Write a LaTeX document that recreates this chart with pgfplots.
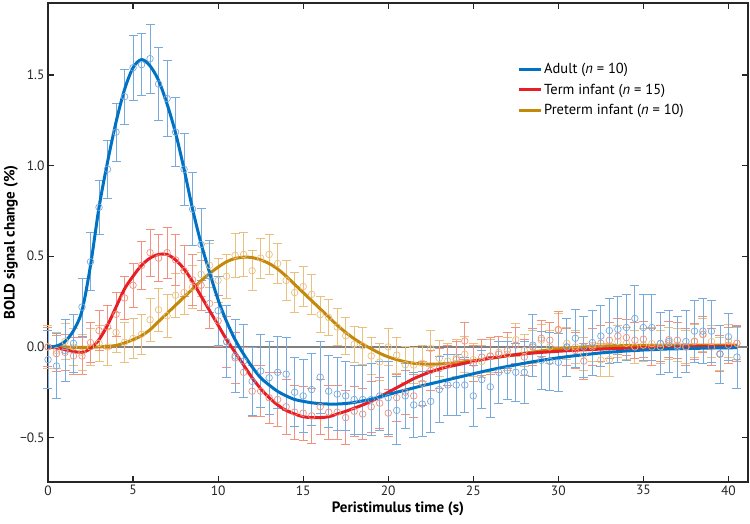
\documentclass[border=0pt]{standalone}
\usepackage{fontspec}
\setmainfont{PT Sans}
\usepackage{pgfplots}
\usepackage{pgfplotstable}
\pgfplotsset{compat=1.18}
\definecolor{cB}{RGB}{0,114,195}
\definecolor{cBl}{RGB}{120,170,222}
\definecolor{cR}{RGB}{232,30,38}
\definecolor{cRl}{RGB}{242,145,125}
\definecolor{cG}{RGB}{196,136,10}
\definecolor{cGl}{RGB}{234,192,128}

\pgfplotstableread{
t v e
0 -0.07 0.16
0.5 -0.105 0.18
1 -0.02 0.17
1.5 0.02 0.16
2 0.22 0.16
2.5 0.47 0.16
3 0.77 0.15
3.5 0.98 0.16
4 1.185 0.16
4.5 1.38 0.15
5 1.54 0.18
5.5 1.557 0.17
6 1.59 0.19
6.5 1.45 0.2
7 1.37 0.21
7.5 1.185 0.19
8 0.98 0.2
8.5 0.76 0.2
9 0.565 0.2
9.5 0.39 0.2
10 0.2 0.19
10.5 0.03 0.2
11 -0.05 0.2
11.5 -0.078 0.2
12 -0.19 0.19
12.5 -0.133 0.2
13 -0.17 0.2
13.5 -0.14 0.2
14 -0.15 0.2
14.5 -0.25 0.19
15 -0.27 0.2
15.5 -0.235 0.2
16 -0.167 0.2
16.5 -0.244 0.2
17 -0.26 0.2
17.5 -0.27 0.19
18 -0.29 0.19
18.5 -0.29 0.19
19 -0.29 0.2
19.5 -0.27 0.19
20 -0.28 0.2
20.5 -0.35 0.19
21 -0.27 0.18
21.5 -0.32 0.18
22 -0.315 0.18
22.5 -0.30 0.17
23 -0.235 0.18
23.5 -0.21 0.17
24 -0.21 0.17
24.5 -0.21 0.15
25 -0.27 0.17
25.5 -0.18 0.16
26 -0.22 0.17
26.5 -0.14 0.17
27 -0.13 0.16
27.5 -0.14 0.16
28 -0.14 0.17
28.5 0.01 0.17
29 -0.074 0.16
29.5 -0.08 0.16
30 -0.085 0.16
30.5 0.0 0.16
31 0.048 0.16
31.5 0.0 0.17
32 0.024 0.18
32.5 0.06 0.17
33 0.09 0.18
33.5 0.097 0.18
34 0.107 0.18
34.5 0.157 0.18
35 0.107 0.18
35.5 0.107 0.18
36 0.018 0.17
36.5 0.03 0.17
37 0.0 0.17
37.5 0.03 0.17
38 0.087 0.17
38.5 0.087 0.18
39 0.087 0.17
39.5 -0.04 0.16
40 0.056 0.13
40.5 -0.056 0.17
}\adultpts

\pgfplotstableread{
t v e
0 0.0 0.11
0.5 -0.037 0.1
1 -0.03 0.1
1.5 -0.05 0.1
2 -0.05 0.1
2.5 0.024 0.11
3 0.09 0.11
3.5 0.11 0.12
4 0.18 0.12
4.5 0.27 0.12
5 0.34 0.12
5.5 0.45 0.13
6 0.52 0.13
6.5 0.49 0.13
7 0.52 0.14
7.5 0.48 0.14
8 0.42 0.14
8.5 0.37 0.14
9 0.34 0.14
9.5 0.24 0.14
10 0.144 0.14
10.5 0.028 0.14
11 -0.06 0.14
11.5 -0.14 0.14
12 -0.244 0.14
12.5 -0.244 0.14
13 -0.28 0.14
13.5 -0.29 0.15
14 -0.33 0.15
14.5 -0.36 0.15
15 -0.365 0.15
15.5 -0.38 0.15
16 -0.33 0.15
16.5 -0.36 0.15
17 -0.36 0.15
17.5 -0.39 0.15
18 -0.355 0.14
18.5 -0.37 0.14
19 -0.33 0.14
19.5 -0.31 0.14
20 -0.365 0.13
20.5 -0.28 0.13
21 -0.25 0.12
21.5 -0.27 0.12
22 -0.2 0.12
22.5 -0.13 0.11
23 -0.12 0.11
23.5 -0.1 0.11
24 -0.07 0.1
24.5 0.033 0.1
25 -0.09 0.1
25.5 -0.056 0.1
26 -0.05 0.1
26.5 -0.04 0.1
27 -0.02 0.1
27.5 0.01 0.1
28 -0.056 0.1
28.5 0.0 0.1
29 0.048 0.1
29.5 0.037 0.1
30 0.096 0.1
30.5 0.0 0.1
31 -0.02 0.1
31.5 -0.078 0.1
32 0.0 0.1
32.5 0.02 0.1
33 0.037 0.1
33.5 0.06 0.1
34 0.052 0.1
34.5 0.037 0.1
35 0.043 0.1
35.5 0.0 0.1
36 0.02 0.1
36.5 0.04 0.1
37 0.037 0.1
37.5 0.0 0.1
38 0.03 0.1
38.5 0.07 0.1
39 0.0 0.1
39.5 -0.037 0.1
40 0.01 0.1
40.5 0.02 0.1
}\termpts

\pgfplotstableread{
t v e
0 0.0 0.12
0.5 -0.02 0.1
1 0.03 0.1
1.5 0.0 0.1
2 -0.03 0.1
2.5 0.0 0.1
3 0.02 0.1
3.5 0.0 0.1
4 0.08 0.11
4.5 0.026 0.11
5 0.047 0.11
5.5 0.07 0.11
6 0.15 0.12
6.5 0.205 0.12
7 0.172 0.12
7.5 0.285 0.12
8 0.30 0.12
8.5 0.33 0.12
9 0.40 0.12
9.5 0.45 0.12
10 0.367 0.12
10.5 0.39 0.12
11 0.505 0.12
11.5 0.51 0.12
12 0.42 0.11
12.5 0.49 0.11
13 0.51 0.11
13.5 0.46 0.11
14 0.367 0.11
14.5 0.30 0.11
15 0.333 0.11
15.5 0.29 0.11
16 0.178 0.1
16.5 0.163 0.1
17 0.11 0.1
17.5 0.061 0.1
18 0.015 0.1
18.5 0.006 0.1
19 -0.05 0.1
19.5 -0.083 0.1
20 0.0 0.1
20.5 -0.045 0.1
21 -0.098 0.1
21.5 -0.1 0.1
22 -0.09 0.1
22.5 -0.009 0.1
23 -0.063 0.1
23.5 -0.078 0.1
24 -0.06 0.1
24.5 -0.04 0.1
25 -0.07 0.09
25.5 -0.08 0.09
26 -0.05 0.09
26.5 -0.03 0.09
27 -0.04 0.09
27.5 0.04 0.09
28 -0.02 0.09
28.5 0.0 0.09
29 0.037 0.09
29.5 0.0 0.09
30 0.093 0.09
30.5 0.02 0.09
31 0.0 0.09
31.5 -0.04 0.09
32 0.01 0.09
32.5 -0.072 0.09
33 -0.07 0.09
33.5 0.03 0.09
34 0.02 0.09
34.5 0.0 0.09
35 0.01 0.09
35.5 0.018 0.09
36 0.0 0.09
36.5 0.02 0.09
37 0.01 0.09
37.5 0.0 0.09
38 0.033 0.09
38.5 0.067 0.09
39 0.03 0.09
39.5 -0.04 0.09
40 0.033 0.09
40.5 0.02 0.09
}\pretermpts

\pgfplotstableread{
t v
0 0.0
0.5 0.005
1 0.03
1.5 0.09
2 0.2
2.5 0.45
3 0.77
3.5 1.02
4 1.24
4.5 1.42
5 1.54
5.5 1.585
6 1.55
6.5 1.47
7 1.34
7.5 1.18
8 0.98
8.5 0.76
9 0.57
9.5 0.41
10 0.26
10.5 0.14
11 0.04
11.5 -0.04
12 -0.11
12.5 -0.17
13 -0.21
13.5 -0.245
14 -0.27
14.5 -0.29
15 -0.30
15.5 -0.308
16 -0.313
16.5 -0.315
17 -0.315
17.5 -0.312
18 -0.306
18.5 -0.298
19 -0.288
19.5 -0.276
20 -0.263
20.5 -0.25
21 -0.238
21.5 -0.226
22 -0.214
22.5 -0.203
23 -0.192
23.5 -0.181
24 -0.17
24.5 -0.159
25 -0.148
25.5 -0.137
26 -0.127
26.5 -0.117
27 -0.108
27.5 -0.099
28 -0.09
28.5 -0.082
29 -0.074
29.5 -0.067
30 -0.06
30.5 -0.054
31 -0.048
31.5 -0.043
32 -0.038
32.5 -0.033
33 -0.029
33.5 -0.026
34 -0.022
34.5 -0.02
35 -0.017
35.5 -0.015
36 -0.013
36.5 -0.011
37 -0.01
37.5 -0.009
38 -0.008
38.5 -0.007
39 -0.006
39.5 -0.005
40 -0.005
40.5 -0.004
}\adultfit

\pgfplotstableread{
t v
0 0.0
0.5 -0.005
1 -0.015
1.5 -0.025
2 -0.03
2.5 -0.01
3 0.04
3.5 0.12
4 0.22
4.5 0.32
5 0.39
5.5 0.45
6 0.49
6.5 0.51
7 0.51
7.5 0.48
8 0.43
8.5 0.36
9 0.28
9.5 0.2
10 0.12
10.5 0.04
11 -0.03
11.5 -0.1
12 -0.17
12.5 -0.23
13 -0.28
13.5 -0.32
14 -0.35
14.5 -0.37
15 -0.385
15.5 -0.39
16 -0.39
16.5 -0.385
17 -0.37
17.5 -0.355
18 -0.338
18.5 -0.32
19 -0.3
19.5 -0.275
20 -0.25
20.5 -0.225
21 -0.2
21.5 -0.175
22 -0.155
22.5 -0.137
23 -0.122
23.5 -0.11
24 -0.1
24.5 -0.09
25 -0.08
25.5 -0.07
26 -0.062
26.5 -0.055
27 -0.049
27.5 -0.043
28 -0.038
28.5 -0.034
29 -0.03
29.5 -0.027
30 -0.024
30.5 -0.021
31 -0.018
31.5 -0.016
32 -0.014
32.5 -0.012
33 -0.01
33.5 -0.008
34 -0.007
34.5 -0.005
35 -0.004
35.5 -0.003
36 -0.002
36.5 -0.001
37 0.0
37.5 0.0
38 0.001
38.5 0.001
39 0.002
39.5 0.002
40 0.003
40.5 0.003
}\termfit

\pgfplotstableread{
t v
0 0.0
0.5 0.0
1 0.0
1.5 -0.002
2 -0.003
2.5 -0.002
3 0.0
3.5 0.003
4 0.008
4.5 0.022
5 0.04
5.5 0.062
6 0.095
6.5 0.14
7 0.185
7.5 0.23
8 0.275
8.5 0.32
9 0.365
9.5 0.405
10 0.44
10.5 0.47
11 0.488
11.5 0.495
12 0.493
12.5 0.48
13 0.46
13.5 0.43
14 0.39
14.5 0.345
15 0.30
15.5 0.255
16 0.21
16.5 0.165
17 0.12
17.5 0.08
18 0.045
18.5 0.015
19 -0.01
19.5 -0.035
20 -0.055
20.5 -0.07
21 -0.082
21.5 -0.09
22 -0.094
22.5 -0.095
23 -0.094
23.5 -0.091
24 -0.087
24.5 -0.082
25 -0.076
25.5 -0.07
26 -0.063
26.5 -0.056
27 -0.049
27.5 -0.042
28 -0.035
28.5 -0.028
29 -0.022
29.5 -0.016
30 -0.011
30.5 -0.007
31 -0.003
31.5 0.0
32 0.002
32.5 0.004
33 0.006
33.5 0.007
34 0.008
34.5 0.008
35 0.009
35.5 0.009
36 0.009
36.5 0.01
37 0.01
37.5 0.01
38 0.01
38.5 0.01
39 0.01
39.5 0.01
40 0.01
40.5 0.01
}\pretermfit

\pgfplotsset{
  ptsstyle/.style={only marks, mark=o, mark size=3.3pt, line width=0.7pt, forget plot,
    color=#1,
    error bars/.cd, y dir=both, y explicit,
    error bar style={line width=0.8pt, color=#1},
    error mark options={rotate=90, mark size=4.5pt, line width=0.8pt, color=#1}},
}

\begin{document}
\begin{tikzpicture}[x=1pt,y=1pt]
\useasboundingbox (-48,-42) rectangle (702,482);
\begin{axis}[
  at={(0,0)}, anchor=south west,
  scale only axis, width=700pt, height=479pt,
  xmin=0, xmax=41.15, ymin=-0.745, ymax=1.897,
  clip=false,
  axis line style={line width=1.2pt, black!85},
  every tick/.style={line width=1.2pt, black!85},
  major tick length=6pt,
  tick align=inside,
  xtick={0,5,...,40},
  ytick={-0.5,0,0.5,1,1.5},
  yticklabels={−0.5,0.0,0.5,1.0,1.5},
  /pgf/number format/assume math mode=true,
  tick label style={font=\fontsize{13.5}{16}\selectfont, black!85},
  xlabel={Peristimulus time (s)},
  ylabel={BOLD signal change (\%)},
  every axis x label/.style={at={(axis description cs:0.5,0)}, anchor=center, yshift=-27pt,
    font=\fontsize{15}{17}\selectfont\bfseries},
  every axis y label/.style={at={(axis description cs:0,0.5)}, anchor=center, xshift=-37pt, rotate=90,
    font=\fontsize{15}{17}\selectfont\bfseries},
  legend style={at={(axis description cs:0.67,0.878)}, anchor=north west, draw=none, fill=none,
    font=\fontsize{14.5}{17}\selectfont, row sep=4.5pt, inner sep=0pt},
  legend cell align=left,
  legend image code/.code={\draw[#1, line width=3pt] (0pt,0pt) -- (22pt,0pt);},
  reverse legend,
]
\addplot[gray, line width=1.2pt, forget plot] coordinates {(0,0) (41.15,0)};
\addplot[ptsstyle=cGl] table[x=t, y=v, y error=e] {\pretermpts};
\addplot[ptsstyle=cRl] table[x=t, y=v, y error=e] {\termpts};
\addplot[ptsstyle=cBl] table[x=t, y=v, y error=e] {\adultpts};
\addplot[cG, line width=3pt, smooth] table[x=t, y=v] {\pretermfit};
\addlegendentry{Preterm infant (\textit{n} = 10)}
\addplot[cR, line width=3pt, smooth] table[x=t, y=v] {\termfit};
\addlegendentry{Term infant (\textit{n} = 15)}
\addplot[cB, line width=3pt, smooth] table[x=t, y=v] {\adultfit};
\addlegendentry{Adult (\textit{n} = 10)}
\end{axis}
\end{tikzpicture}
\end{document}
